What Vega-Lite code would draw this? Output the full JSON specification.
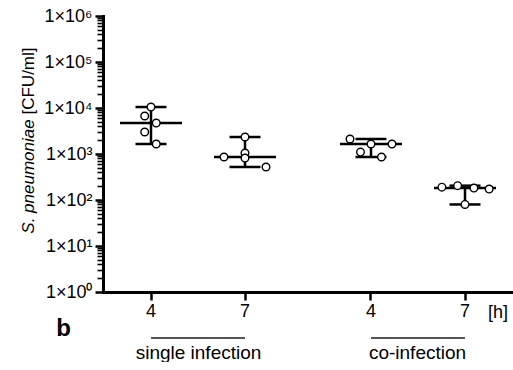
{
  "$schema": "https://vega.github.io/schema/vega-lite/v6.json",
  "background": "white",
  "padding": {"left": 19, "top": 7, "right": 0, "bottom": 0},
  "config": {"view": {"stroke": null}, "font": "Liberation Sans", "axis": {"minExtent": 0}},
  "datasets": {
    "cfu": [
      {"infection": "single infection", "time": 4, "cfu": 10500, "swarm": 0},
      {"infection": "single infection", "time": 4, "cfu": 6700, "swarm": -0.6},
      {"infection": "single infection", "time": 4, "cfu": 4720, "swarm": 0.5},
      {"infection": "single infection", "time": 4, "cfu": 3010, "swarm": -0.6},
      {"infection": "single infection", "time": 4, "cfu": 1650, "swarm": 0.5},
      {"infection": "single infection", "time": 7, "cfu": 2340, "swarm": 0},
      {"infection": "single infection", "time": 7, "cfu": 1050, "swarm": 0},
      {"infection": "single infection", "time": 7, "cfu": 860, "swarm": -2},
      {"infection": "single infection", "time": 7, "cfu": 818, "swarm": 0},
      {"infection": "single infection", "time": 7, "cfu": 522, "swarm": 2},
      {"infection": "co-infection", "time": 4, "cfu": 2120, "swarm": -2},
      {"infection": "co-infection", "time": 4, "cfu": 1650, "swarm": 0},
      {"infection": "co-infection", "time": 4, "cfu": 1650, "swarm": 2},
      {"infection": "co-infection", "time": 4, "cfu": 1100, "swarm": -1},
      {"infection": "co-infection", "time": 4, "cfu": 860, "swarm": 1},
      {"infection": "co-infection", "time": 7, "cfu": 190, "swarm": -2.2},
      {"infection": "co-infection", "time": 7, "cfu": 205, "swarm": -0.7},
      {"infection": "co-infection", "time": 7, "cfu": 182, "swarm": 0.85},
      {"infection": "co-infection", "time": 7, "cfu": 173, "swarm": 2.3},
      {"infection": "co-infection", "time": 7, "cfu": 80, "swarm": 0}
    ],
    "groups": [
      {"infection": "single infection", "start": 4, "end": 7},
      {"infection": "co-infection", "start": 4, "end": 7}
    ]
  },
  "spacing": 0,
  "bounds": "flush",
  "resolve": {"scale": {"x": "independent"}},
  "hconcat": [
    {
      "width": 205,
      "height": 276,
      "resolve": {"axis": {"y": "independent"}},
      "encoding": {
        "x": {
          "field": "time", "type": "ordinal",
          "scale": {"type": "band", "domain": [4, 7], "paddingInner": 0, "paddingOuter": 0.0904, "align": 0.0588},
          "axis": {
            "labelAngle": 0, "grid": false,
            "domainWidth": 3, "domainColor": "black", "domainCap": "square",
            "tickSize": 8, "tickWidth": 2.5, "tickColor": "black",
            "labelFontSize": 18, "labelPadding": 2, "labelColor": "black",
            "title": "single infection", "titleFontSize": 19, "titleFontWeight": "normal", "titleColor": "black",
            "titleX": 95, "titleY": 66, "titleBaseline": "alphabetic", "titleAlign": "center"
          }
        }
      },
      "layer": [
        {
          "data": {"name": "cfu"},
          "transform": [{"filter": "datum.infection === 'single infection'"}],
          "mark": {"type": "rule", "strokeWidth": 2.5, "color": "black"},
          "encoding": {
            "y": {
              "aggregate": "min", "field": "cfu", "type": "quantitative",
              "scale": {"type": "log", "domain": [1, 1000000], "nice": false},
              "axis": {
                "orient": "left",
                "values": [1,2,3,4,5,6,7,8,9,10,20,30,40,50,60,70,80,90,100,200,300,400,500,600,700,800,900,1000,2000,3000,4000,5000,6000,7000,8000,9000,10000,20000,30000,40000,50000,60000,70000,80000,90000,100000,200000,300000,400000,500000,600000,700000,800000,900000,1000000],
                "tickCount": 1000,
                "labelExpr": "abs(log(datum.value)/LN10 - round(log(datum.value)/LN10)) < 0.001 ? '1×10' + ['⁰','¹','²','³','⁴','⁵','⁶'][round(log(datum.value)/LN10)] : ''",
                "labelOverlap": false,
                "grid": false, "domainWidth": 3, "domainColor": "black", "domainCap": "square",
                "tickSize": {"condition": {"test": "abs(log(datum.value)/LN10 - round(log(datum.value)/LN10)) < 0.001", "value": 8}, "value": 6},
                "tickWidth": {"condition": {"test": "abs(log(datum.value)/LN10 - round(log(datum.value)/LN10)) < 0.001", "value": 2.5}, "value": 1.6},
                "tickColor": "black",
                "labelFontSize": 18, "labelPadding": 3, "labelColor": "black", "labelBaseline": "middle",
                "title": "S. pneumoniae", "titleFontStyle": "italic", "titleFontSize": 17, "titleFontWeight": "normal", "titleColor": "black",
                "titleAngle": 270, "titleAlign": "center", "titleBaseline": "alphabetic", "titleX": -70, "titleY": 160
              }
            },
            "y2": {"aggregate": "max", "field": "cfu"}
          }
        },
        {
          "data": {"name": "cfu"},
          "transform": [{"filter": "datum.infection === 'single infection'"}],
          "mark": {"type": "tick", "orient": "horizontal", "size": 31, "thickness": 2.5, "color": "black"},
          "encoding": {
            "y": {"aggregate": "min", "field": "cfu", "type": "quantitative",
                  "scale": {"type": "log", "domain": [1, 1000000], "nice": false},
                  "axis": {
                    "orient": "left", "values": [], "labels": false, "domain": false, "ticks": false, "grid": false,
                    "title": "[CFU/ml]", "titleFontSize": 17, "titleFontWeight": "normal", "titleColor": "black",
                    "titleAngle": 270, "titleAlign": "center", "titleBaseline": "alphabetic", "titleX": -70, "titleY": 64.5
                  }}
          }
        },
        {
          "data": {"name": "cfu"},
          "transform": [{"filter": "datum.infection === 'single infection'"}],
          "mark": {"type": "tick", "orient": "horizontal", "size": 31, "thickness": 2.5, "color": "black"},
          "encoding": {
            "y": {"aggregate": "max", "field": "cfu", "type": "quantitative",
                  "scale": {"type": "log", "domain": [1, 1000000], "nice": false},
                  "axis": {
                    "orient": "left", "values": [], "labels": false, "domain": false, "ticks": false, "grid": false,
                    "title": "b", "titleFontSize": 24, "titleFontWeight": "bold", "titleColor": "black",
                    "titleAngle": 0, "titleAlign": "center", "titleBaseline": "middle", "titleX": -40, "titleY": 312
                  }}
          }
        },
        {
          "data": {"name": "cfu"},
          "transform": [{"filter": "datum.infection === 'single infection'"}],
          "mark": {"type": "tick", "orient": "horizontal", "size": 62, "thickness": 2.5, "color": "black"},
          "encoding": {
            "y": {"aggregate": "median", "field": "cfu", "type": "quantitative",
                  "scale": {"type": "log", "domain": [1, 1000000], "nice": false}, "axis": null}
          }
        },
        {
          "data": {"name": "cfu"},
          "transform": [{"filter": "datum.infection === 'single infection'"}],
          "mark": {"type": "circle", "size": 58, "fill": "white", "stroke": "black", "strokeWidth": 1.4, "opacity": 1},
          "encoding": {
            "xOffset": {"field": "swarm", "type": "quantitative", "scale": {"domain": [-2, 2], "range": [26, 68]}},
            "y": {"field": "cfu", "type": "quantitative",
                  "scale": {"type": "log", "domain": [1, 1000000], "nice": false}, "axis": null}
          }
        },
        {
          "data": {"name": "groups"},
          "transform": [{"filter": "datum.infection === 'single infection'"}],
          "mark": {"type": "rule", "strokeWidth": 2, "color": "#555555"},
          "encoding": {
            "x": {"field": "start", "type": "ordinal", "bandPosition": 0.5},
            "x2": {"field": "end", "bandPosition": 0.5},
            "y": {"datum": 0.1, "type": "quantitative",
                  "scale": {"type": "log", "domain": [1, 1000000], "nice": false}, "axis": null}
          }
        }
      ]
    },
    {
      "width": 206,
      "height": 276,
      "resolve": {"axis": {"y": "independent"}},
      "encoding": {
        "x": {
          "field": "time", "type": "ordinal",
          "scale": {"type": "band", "domain": [4, 7], "paddingInner": 0, "paddingOuter": 0.0957, "align": 0.889},
          "axis": {
            "labelAngle": 0, "grid": false,
            "domainWidth": 3, "domainColor": "black", "domainCap": "square",
            "tickSize": 8, "tickWidth": 2.5, "tickColor": "black",
            "labelFontSize": 18, "labelPadding": 2, "labelColor": "black",
            "title": "co-infection", "titleFontSize": 19, "titleFontWeight": "normal", "titleColor": "black",
            "titleX": 109, "titleY": 66, "titleBaseline": "alphabetic", "titleAlign": "center"
          }
        }
      },
      "layer": [
        {
          "data": {"name": "cfu"},
          "transform": [{"filter": "datum.infection === 'co-infection'"}],
          "mark": {"type": "rule", "strokeWidth": 2.5, "color": "black"},
          "encoding": {
            "y": {"aggregate": "min", "field": "cfu", "type": "quantitative",
                  "scale": {"type": "log", "domain": [1, 1000000], "nice": false},
                  "axis": {
                    "orient": "right", "values": [], "labels": false, "domain": false, "ticks": false, "grid": false,
                    "title": "[h]", "titleFontSize": 18, "titleFontWeight": "normal", "titleColor": "black",
                    "titleAngle": 0, "titleAlign": "center", "titleBaseline": "middle", "titleX": -16.5, "titleY": 296
                  }},
            "y2": {"aggregate": "max", "field": "cfu"}
          }
        },
        {
          "data": {"name": "cfu"},
          "transform": [{"filter": "datum.infection === 'co-infection'"}],
          "mark": {"type": "tick", "orient": "horizontal", "size": 31, "thickness": 2.5, "color": "black"},
          "encoding": {
            "y": {"aggregate": "min", "field": "cfu", "type": "quantitative",
                  "scale": {"type": "log", "domain": [1, 1000000], "nice": false}, "axis": null}
          }
        },
        {
          "data": {"name": "cfu"},
          "transform": [{"filter": "datum.infection === 'co-infection'"}],
          "mark": {"type": "tick", "orient": "horizontal", "size": 31, "thickness": 2.5, "color": "black"},
          "encoding": {
            "y": {"aggregate": "max", "field": "cfu", "type": "quantitative",
                  "scale": {"type": "log", "domain": [1, 1000000], "nice": false}, "axis": null}
          }
        },
        {
          "data": {"name": "cfu"},
          "transform": [{"filter": "datum.infection === 'co-infection'"}],
          "mark": {"type": "tick", "orient": "horizontal", "size": 62, "thickness": 2.5, "color": "black"},
          "encoding": {
            "y": {"aggregate": "median", "field": "cfu", "type": "quantitative",
                  "scale": {"type": "log", "domain": [1, 1000000], "nice": false}, "axis": null}
          }
        },
        {
          "data": {"name": "cfu"},
          "transform": [{"filter": "datum.infection === 'co-infection'"}],
          "mark": {"type": "circle", "size": 58, "fill": "white", "stroke": "black", "strokeWidth": 1.4, "opacity": 1},
          "encoding": {
            "xOffset": {"field": "swarm", "type": "quantitative", "scale": {"domain": [-2, 2], "range": [26, 68]}},
            "y": {"field": "cfu", "type": "quantitative",
                  "scale": {"type": "log", "domain": [1, 1000000], "nice": false}, "axis": null}
          }
        },
        {
          "data": {"name": "groups"},
          "transform": [{"filter": "datum.infection === 'co-infection'"}],
          "mark": {"type": "rule", "strokeWidth": 2, "color": "#555555"},
          "encoding": {
            "x": {"field": "start", "type": "ordinal", "bandPosition": 0.5},
            "x2": {"field": "end", "bandPosition": 0.5},
            "y": {"datum": 0.1, "type": "quantitative",
                  "scale": {"type": "log", "domain": [1, 1000000], "nice": false}, "axis": null}
          }
        }
      ]
    }
  ]
}
